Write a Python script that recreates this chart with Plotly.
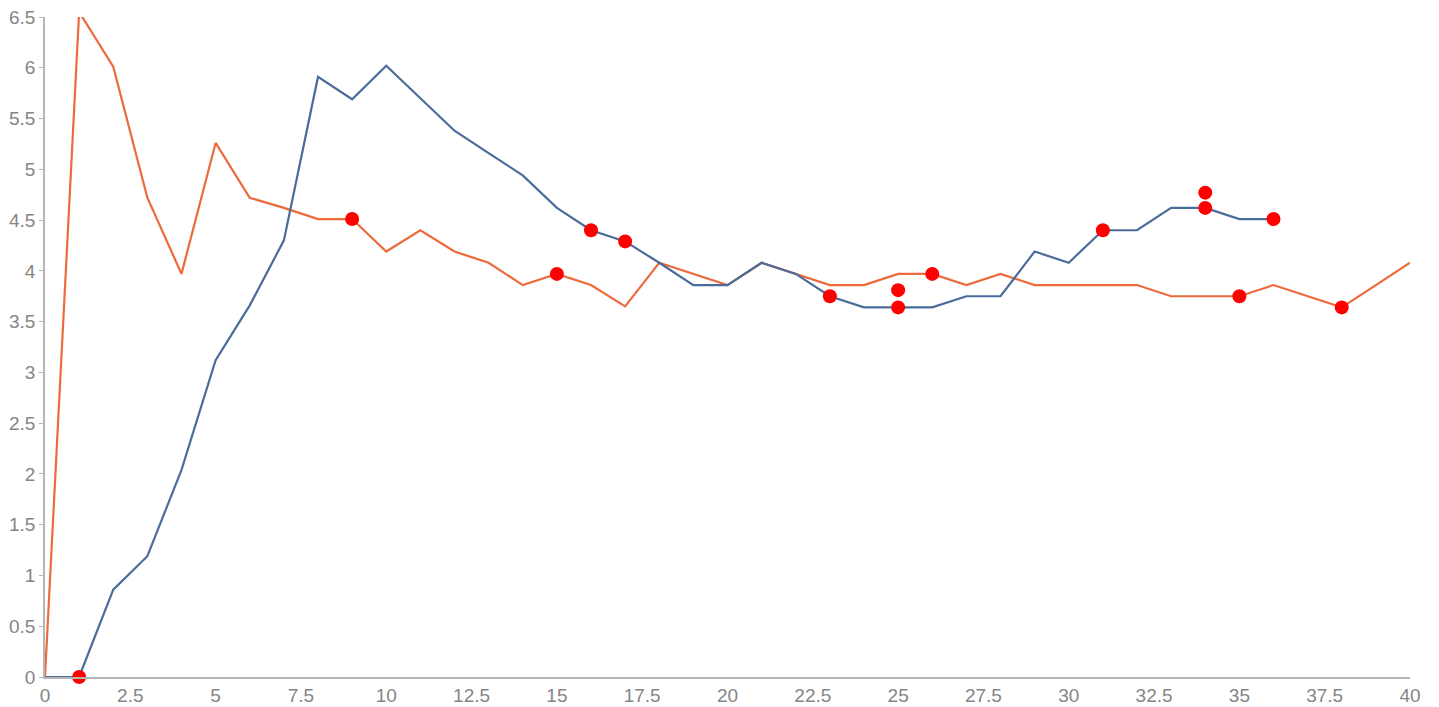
import plotly.graph_objects as go

blue_x = list(range(0, 37))
blue_y = [0, 0, 0.86, 1.19, 2.04, 3.12, 3.66, 4.30, 5.91, 5.69, 6.02, 5.70, 5.38, 5.16,
          4.94, 4.62, 4.40, 4.29, 4.08, 3.86, 3.86, 4.08, 3.97, 3.75, 3.64, 3.64, 3.64,
          3.75, 3.75, 4.19, 4.08, 4.40, 4.40, 4.62, 4.62, 4.51, 4.51]

orange_x = list(range(0, 41))
orange_y = [0, 6.55, 6.01, 4.72, 3.97, 5.26, 4.72, 4.62, 4.51, 4.51, 4.19, 4.40, 4.19,
            4.08, 3.86, 3.97, 3.86, 3.65, 4.08, 3.97, 3.86, 4.08, 3.97, 3.86, 3.86, 3.97,
            3.97, 3.86, 3.97, 3.86, 3.86, 3.86, 3.86, 3.75, 3.75, 3.75, 3.86, 3.75, 3.64,
            3.86, 4.08]

dot_x = [1, 9, 15, 16, 17, 23, 25, 25, 26, 31, 34, 34, 35, 36, 38]
dot_y = [0, 4.51, 3.97, 4.40, 4.29, 3.75, 3.81, 3.64, 3.97, 4.40, 4.77, 4.62, 3.75, 4.51, 3.64]

fig = go.Figure()
fig.add_trace(go.Scatter(x=orange_x, y=orange_y, mode="lines",
                         line=dict(color="#ec6a3c", width=2.2), showlegend=False, cliponaxis=False))
fig.add_trace(go.Scatter(x=blue_x, y=blue_y, mode="lines",
                         line=dict(color="#4a6c9b", width=2.2), showlegend=False, cliponaxis=False))
fig.add_trace(go.Scatter(x=dot_x, y=dot_y, mode="markers",
                         marker=dict(color="#ff0000", size=14), showlegend=False, cliponaxis=False))

font = dict(family="Liberation Sans, Arial, sans-serif", size=19, color="#858585")

fig.update_layout(
    width=1439, height=707,
    margin=dict(l=45, r=29, t=17, b=30, pad=0),
    paper_bgcolor="white", plot_bgcolor="white",
    xaxis=dict(range=[0, 40], tickmode="linear", tick0=0, dtick=2.5,
               showgrid=False, zeroline=False, showline=True, linecolor="#b5b5b5",
               linewidth=1.5, ticks="", automargin=False, tickfont=font),
    yaxis=dict(range=[0, 6.5], tickmode="linear", tick0=0, dtick=0.5,
               showgrid=False, zeroline=False, showline=True, linecolor="#b5b5b5",
               linewidth=1.5, ticks="outside", tickcolor="#b5b5b5", ticklen=4,
               automargin=False, tickfont=font),
)

fig.write_html("out.html", config={"displayModeBar": False},
               post_script="document.body.style.margin='0';")
